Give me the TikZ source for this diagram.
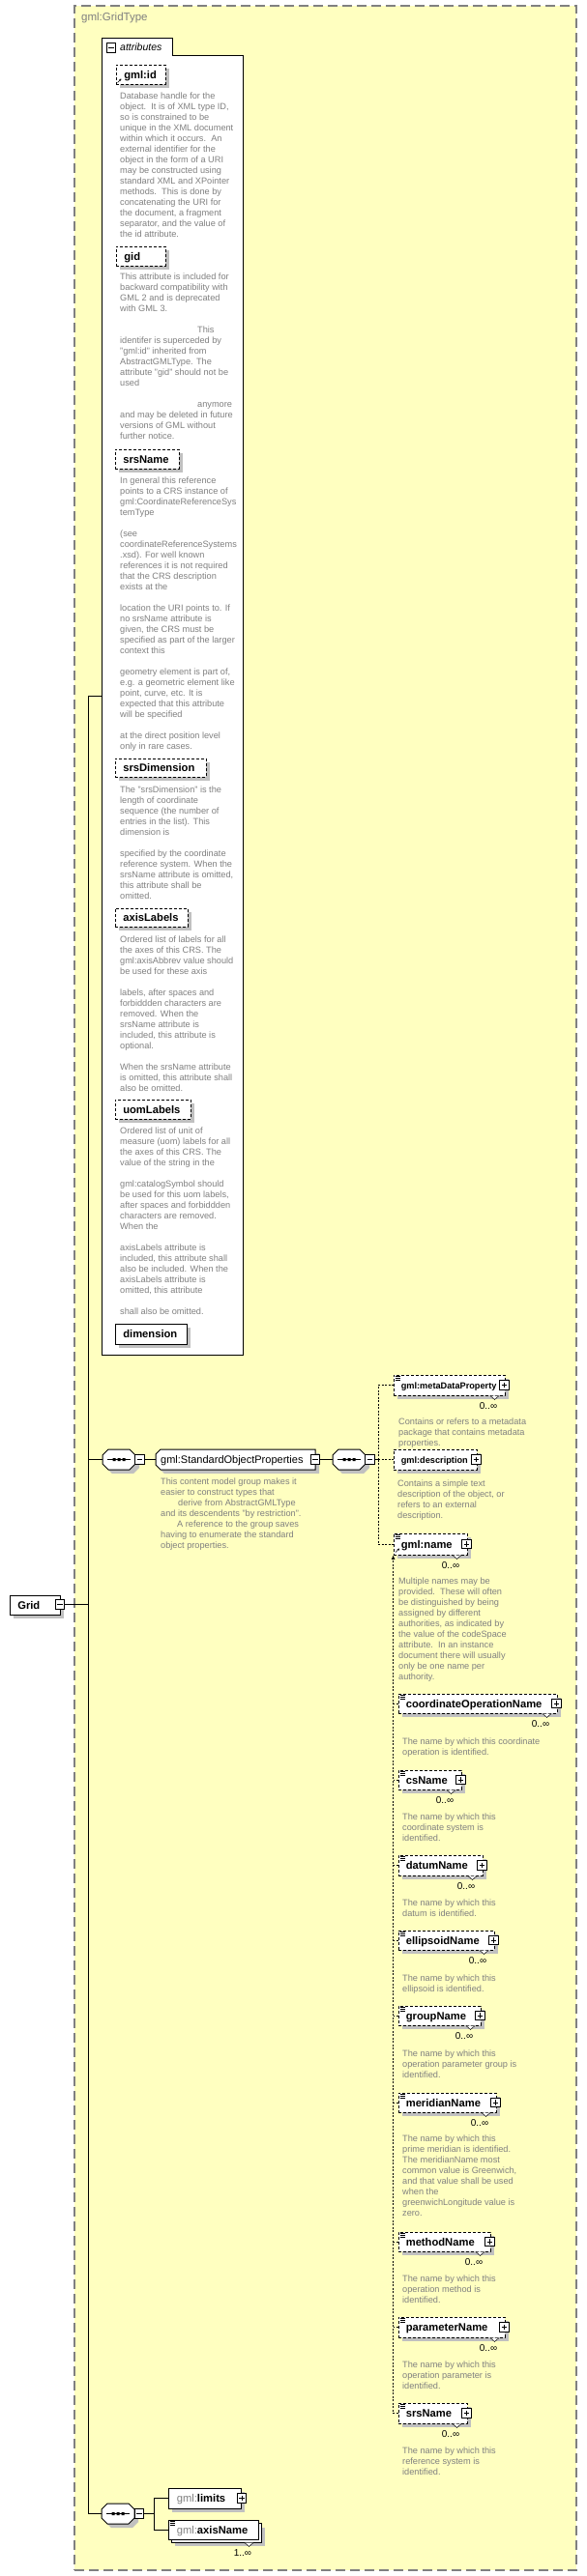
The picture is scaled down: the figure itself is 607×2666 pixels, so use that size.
\documentclass[tikz,border=0pt]{standalone}
\usepackage{fontspec}
\setmainfont{Liberation Sans}
\usetikzlibrary{fit,shadows,arrows.meta}
\definecolor{ylw}{RGB}{255,255,192}
\definecolor{brd}{RGB}{128,128,128}
\definecolor{shd}{RGB}{192,192,192}
\definecolor{dsc}{RGB}{128,128,128}
\tikzset{
  desc/.style={anchor=north west, inner sep=0, align=left, text=dsc, font=\fontsize{9.2}{11}\selectfont},
  ttl/.style={anchor=west, inner sep=0, text height=8pt, text depth=0pt, font=\fontsize{11.2}{13}\selectfont\bfseries},
  smallttl/.style={ttl, font=\fontsize{9.2}{11}\selectfont\bfseries, text height=7pt},
  mult/.style={inner sep=0, font=\fontsize{10}{12}\selectfont},
  box/.style={inner sep=0, draw, fill=white, line width=0.8pt, drop shadow={shadow xshift=4pt, shadow yshift=-4pt, fill=shd, opacity=1}},
  optbox/.style={box, dash pattern=on 3pt off 2pt},
  pm/.style={draw, fill=white, minimum size=9.5pt, inner sep=0, line width=0.6pt, solid},
  minusbox/.style={pm, path picture={\draw[line width=0.7pt] ([xshift=2pt]path picture bounding box.west) -- ([xshift=-2pt]path picture bounding box.east);}},
  plusbox/.style={pm, path picture={\draw[line width=0.7pt] ([xshift=2pt]path picture bounding box.west) -- ([xshift=-2pt]path picture bounding box.east) ([yshift=-2pt]path picture bounding box.north) -- ([yshift=2pt]path picture bounding box.south);}},
  conn/.style={line width=1pt},
  dashline/.style={line width=0.9pt, dash pattern=on 2pt off 1.5pt},
}
% attribute / plain element box: [style] name L T R B title
\newcommand\attrel[7][optbox]{%
  \node[#1, fit={(#3,#4)(#5,#6)}] (#2) {};
  \node[ttl] (#2-t) at ([xshift=8.5pt]#2.west) {#7};}
% element with type icon, plus box, notch and multiplicity: [title style] name L T Rb B title
\newcommand\subel[7][ttl]{%
  \node[optbox, fit={(#3,#4)(#5,#6)}] (#2) {};
  \node[#1] (#2-t) at ([xshift=8pt]#2.west) {#7};
  \node[plusbox] (#2-p) at ([xshift=-1pt]#2.east) {};
  \draw[line width=0.5pt] (#3+1.5,#4+1.5) -- ++(5,0) (#3+1.5,#4+3.5) -- ++(5,0) (#3+1.5,#4+5.5) -- ++(5,0);
  \draw[line width=0.5pt, fill=white] (#5-15,#6+0.5) -- (#5-10.5,#6+4.5) -- (#5-6,#6+0.5);
  \node[mult] (#2-n) at (#5-17,#6+11.5) {0..∞};}
% sequence compositor: name cx cy
\newcommand\seqsym[3]{%
  \fill[shd] (#2-7,#3-6.5) -- (#2+15,#3-6.5) -- (#2+21,#3-0.5) -- (#2+21,#3+8.5) -- (#2+15,#3+14.5) -- (#2-7,#3+14.5) -- (#2-13,#3+8.5) -- (#2-13,#3-0.5) -- cycle;
  \node[inner sep=0, minimum width=34pt, minimum height=21pt] (#1) at (#2,#3) {};
  \draw[fill=white, line width=1pt] (#2-11,#3-10.5) -- (#2+11,#3-10.5) -- (#2+17,#3-4.5) -- (#2+17,#3+4.5) -- (#2+11,#3+10.5) -- (#2-11,#3+10.5) -- (#2-17,#3+4.5) -- (#2-17,#3-4.5) -- cycle;
  \draw[line width=1pt] (#2-12,#3) -- (#2+12,#3);
  \fill (#2-6.5,#3-1.5) rectangle ++(3,3) (#2-1.5,#3-1.5) rectangle ++(3,3) (#2+3.5,#3-1.5) rectangle ++(3,3);}
\begin{document}
\begin{tikzpicture}[x=1pt,y=-1pt]
\useasboundingbox (0,0) rectangle (607,2666);
% complex type frame
\node[fit={(77,6)(596,2660)}, inner sep=0, draw=brd, fill=ylw, line width=1.1pt, dash pattern=on 10pt off 5pt] (gt) {};
\node[anchor=west, inner sep=0, text=brd, font=\fontsize{11.5}{13}\selectfont] (gt-t) at (84,19) {gml:GridType};

% attributes container
\draw[fill=white, line width=1pt] (105,1402) -- (105,39) -- (178,39) -- (178,57) -- (251,57) -- (251,1402) -- cycle;
\coordinate (attrL) at (105,720);
\node[minusbox] (attr-m) at (115,49.5) {};
\node[anchor=west, inner sep=0, font=\fontsize{10.5}{12}\selectfont\itshape] (attr-t) at (124,48.5) {attributes};

\attrel{a-id}{120}{67}{171}{87}{gml:id}
\draw[-{Stealth[length=2.5pt,width=2.5pt]}, line width=0.6pt] (121.5,85.5) -- (125.5,81.5);
\node[desc] (a-id-d) at (124,99-3.4) {Database handle for the\\
object.\ \ It is of XML type ID,\\
so is constrained to be\\
unique in the XML document\\
within which it occurs.\ \ An\\
external identifier for the\\
object in the form of a URI\\
may be constructed using\\
standard XML and XPointer\\
methods.\ \ This is done by\\
concatenating the URI for\\
the document, a fragment\\
separator, and the value of\\
the id attribute.};

\attrel{a-gid}{120}{255}{171}{275}{gid}
\node[desc] (a-gid-d) at (124,286-3.4) {This attribute is included for\\
backward compatibility with\\
GML 2 and is deprecated\\
with GML 3.\\[11pt]
\hspace*{80pt}This\\
identifer is superceded by\\
"gml:id" inherited from\\
AbstractGMLType. The\\
attribute "gid" should not be\\
used\\[11pt]
\hspace*{80pt}anymore\\
and may be deleted in future\\
versions of GML without\\
further notice.};

\attrel{a-srs}{119}{465}{185}{485}{srsName}
\node[desc] (a-srs-d) at (124,497-3.4) {In general this reference\\
points to a CRS instance of\\
gml:CoordinateReferenceSys\\
temType\\[11pt]
(see\\
coordinateReferenceSystems\\
.xsd). For well known\\
references it is not required\\
that the CRS description\\
exists at the\\[11pt]
location the URI points to. If\\
no srsName attribute is\\
given, the CRS must be\\
specified as part of the larger\\
context this\\[11pt]
geometry element is part of,\\
e.g. a geometric element like\\
point, curve, etc. It is\\
expected that this attribute\\
will be specified\\[11pt]
at the direct position level\\
only in rare cases.};

\attrel{a-dim}{119}{785}{213}{804}{srsDimension}
\node[desc] (a-dim-d) at (124,817-3.4) {The "srsDimension" is the\\
length of coordinate\\
sequence (the number of\\
entries in the list). This\\
dimension is\\[11pt]
specified by the coordinate\\
reference system. When the\\
srsName attribute is omitted,\\
this attribute shall be\\
omitted.};

\attrel{a-axl}{119}{940}{194}{959}{axisLabels}
\node[desc] (a-axl-d) at (124,972-3.4) {Ordered list of labels for all\\
the axes of this CRS. The\\
gml:axisAbbrev value should\\
be used for these axis\\[11pt]
labels, after spaces and\\
forbiddden characters are\\
removed. When the\\
srsName attribute is\\
included, this attribute is\\
optional.\\[11pt]
When the srsName attribute\\
is omitted, this attribute shall\\
also be omitted.};

\attrel{a-uom}{119}{1138}{197}{1158}{uomLabels}
\node[desc] (a-uom-d) at (124,1170-3.4) {Ordered list of unit of\\
measure (uom) labels for all\\
the axes of this CRS. The\\
value of the string in the\\[11pt]
gml:catalogSymbol should\\
be used for this uom labels,\\
after spaces and forbiddden\\
characters are removed.\\
When the\\[11pt]
axisLabels attribute is\\
included, this attribute shall\\
also be included. When the\\
axisLabels attribute is\\
omitted, this attribute\\[11pt]
shall also be omitted.};

\attrel[box]{a-dimension}{119}{1370}{193}{1391}{dimension}

% root element
\attrel[box]{grid}{10}{1651}{62}{1671}{Grid}
\node[minusbox] (grid-m) at (62,1660.5) {};

% trunk
\coordinate (tr-top) at (91,720);
\coordinate (tr-s1) at (91,1510.5);
\coordinate (tr-g) at (91,1660.5);
\coordinate (tr-bot) at (91,2601.5);
\draw[conn] (attrL) -- (tr-top) -- (tr-bot);
\draw[conn] (grid-m.east) -- (tr-g);

% first sequence with group
\seqsym{seq1}{123}{1510.5}
\node[minusbox] (seq1-m) at (144.5,1510.5) {};
\draw[conn] (tr-s1) -- (seq1.west);
\node[inner sep=0, fit={(161,1500)(326,1521)}] (sop) {};
\fill[shd] (170,1504) -- (330,1504) -- (330,1525) -- (170,1525) -- (165,1520) -- (165,1509) -- cycle;
\draw[fill=white, line width=1pt] (166,1500) -- (326,1500) -- (326,1521) -- (166,1521) -- (161,1516) -- (161,1505) -- cycle;
\node[anchor=west, inner sep=0, text height=8pt, text depth=0pt, font=\fontsize{11}{13}\selectfont] (sop-t) at (166,1510.5) {gml:StandardObjectProperties};
\node[minusbox] (sop-m) at (326,1510.5) {};
\draw[conn] (seq1-m.east) -- (sop.west);
\node[desc] (sop-d) at (166,1533-3.4) {This content model group makes it\\
easier to construct types that\\
\hspace*{18pt}derive from AbstractGMLType\\
and its descendents "by restriction".\\
\hspace*{17pt}A reference to the group saves\\
having to enumerate the standard\\
object properties.};

\seqsym{seq2}{361}{1510.5}
\node[minusbox] (seq2-m) at (382.5,1510.5) {};
\draw[conn] (sop-m.east) -- (seq2.west);
\coordinate (ch) at (391,1510.5);
\draw[conn] (seq2-m.east) -- (ch);

\subel[smallttl]{e-meta}{407}{1423}{522}{1444}{gml:metaDataProperty}
\node[desc] (e-meta-d) at (412,1471-3.4) {Contains or refers to a metadata\\
package that contains metadata\\
properties.};
\node[optbox, fit={(407,1500)(493,1521)}] (e-desc) {};
\node[smallttl] (e-desc-t) at ([xshift=8pt]e-desc.west) {gml:description};
\node[plusbox] (e-desc-p) at ([xshift=-1pt]e-desc.east) {};
\node[desc] (e-desc-d) at (411,1535-3.4) {Contains a simple text\\
description of the object, or\\
refers to an external\\
description.};

\subel{e-name}{407}{1587}{483}{1609}{gml:name}
\draw[-{Stealth[length=2.5pt,width=2.5pt]}, line width=0.6pt] (409,1606.5) -- (413,1602.5);
\node[desc] (e-name-d) at (412,1636-3.4) {Multiple names may be\\
provided.\ \ These will often\\
be distinguished by being\\
assigned by different\\
authorities, as indicated by\\
the value of the codeSpace\\
attribute.\ \ In an instance\\
document there will usually\\
only be one name per\\
authority.};

\draw[dashline] (ch) |- (e-meta.west);
\draw[dashline] (ch) -- (e-desc.west);
\draw[dashline] (ch) |- (e-name.west);

% substitution group members
\subel{e-con}{412}{1753}{576}{1773}{coordinateOperationName}
\node[desc] (e-con-d) at (416,1802-3.4) {The name by which this coordinate\\operation is identified.};
\subel{e-csn}{412}{1832}{477}{1852}{csName}
\node[desc] (e-csn-d) at (416,1880-3.4) {The name by which this\\coordinate system is\\identified.};
\subel{e-dat}{412}{1920}{499}{1941}{datumName}
\node[desc] (e-dat-d) at (416,1969-3.4) {The name by which this\\datum is identified.};
\subel{e-ell}{412}{1998}{511}{2018}{ellipsoidName}
\node[desc] (e-ell-d) at (416,2047-3.4) {The name by which this\\ellipsoid is identified.};
\subel{e-grp}{412}{2076}{497}{2096}{groupName}
\node[desc] (e-grp-d) at (416,2125-3.4) {The name by which this\\operation parameter group is\\identified.};
\subel{e-mer}{412}{2166}{513}{2186}{meridianName}
\node[desc] (e-mer-d) at (416,2213-3.4) {The name by which this\\
prime meridian is identified.\\
The meridianName most\\
common value is Greenwich,\\
and that value shall be used\\
when the\\
greenwichLongitude value is\\
zero.};
\subel{e-met}{412}{2310}{507}{2330}{methodName}
\node[desc] (e-met-d) at (416,2358-3.4) {The name by which this\\operation method is\\identified.};
\subel{e-par}{412}{2398}{522}{2419}{parameterName}
\node[desc] (e-par-d) at (416,2447-3.4) {The name by which this\\operation parameter is\\identified.};
\subel{e-srs}{412}{2487}{483}{2508}{srsName}
\node[desc] (e-srs-d) at (416,2536-3.4) {The name by which this\\reference system is\\identified.};

\draw[dashline, -{Latex[length=4.5pt,width=4pt]}] (e-srs.west) -| (e-name.south west);
\foreach \n in {e-con,e-csn,e-dat,e-ell,e-grp,e-mer,e-met,e-par}
  \draw[dashline] (\n.west) -- ++(-5,0);

% second sequence
\seqsym{seq3}{122}{2601.5}
\node[minusbox] (seq3-m) at (144,2601.5) {};
\draw[conn] (tr-bot) -- (seq3.west);
\coordinate (c3) at (159,2601.5);
\draw[conn] (seq3-m.east) -- (c3);

\node[box, fit={(174,2575)(249,2596)}] (e-lim) {};
\node[ttl] (e-lim-t) at ([xshift=9pt]e-lim.west) {\textcolor{brd}{\mdseries gml:}limits};
\node[plusbox] (e-lim-p) at ([xshift=0.5pt]e-lim.east) {};

\fill[shd] (181,2616) rectangle (274,2635);
\draw[fill=white, line width=0.8pt] (177,2611) rectangle (270,2631);
\node[inner sep=0, draw, fill=white, line width=0.8pt, fit={(174,2608)(267,2628)}] (e-axn) {};
\node[ttl] (e-axn-t) at ([xshift=9pt]e-axn.west) {\textcolor{brd}{\mdseries gml:}axisName};
\draw[line width=0.5pt] (175.5,2609.5) -- ++(5,0) (175.5,2611.5) -- ++(5,0) (175.5,2613.5) -- ++(5,0);
\draw[line width=0.5pt, fill=white] (253,2631.5) -- (257.5,2635.5) -- (262,2631.5);
\node[mult] (e-axn-n) at (251,2642) {1..∞};

\draw[conn] (c3) |- (e-lim.west);
\draw[conn] (c3) |- (e-axn.west);
\end{tikzpicture}
\end{document}
